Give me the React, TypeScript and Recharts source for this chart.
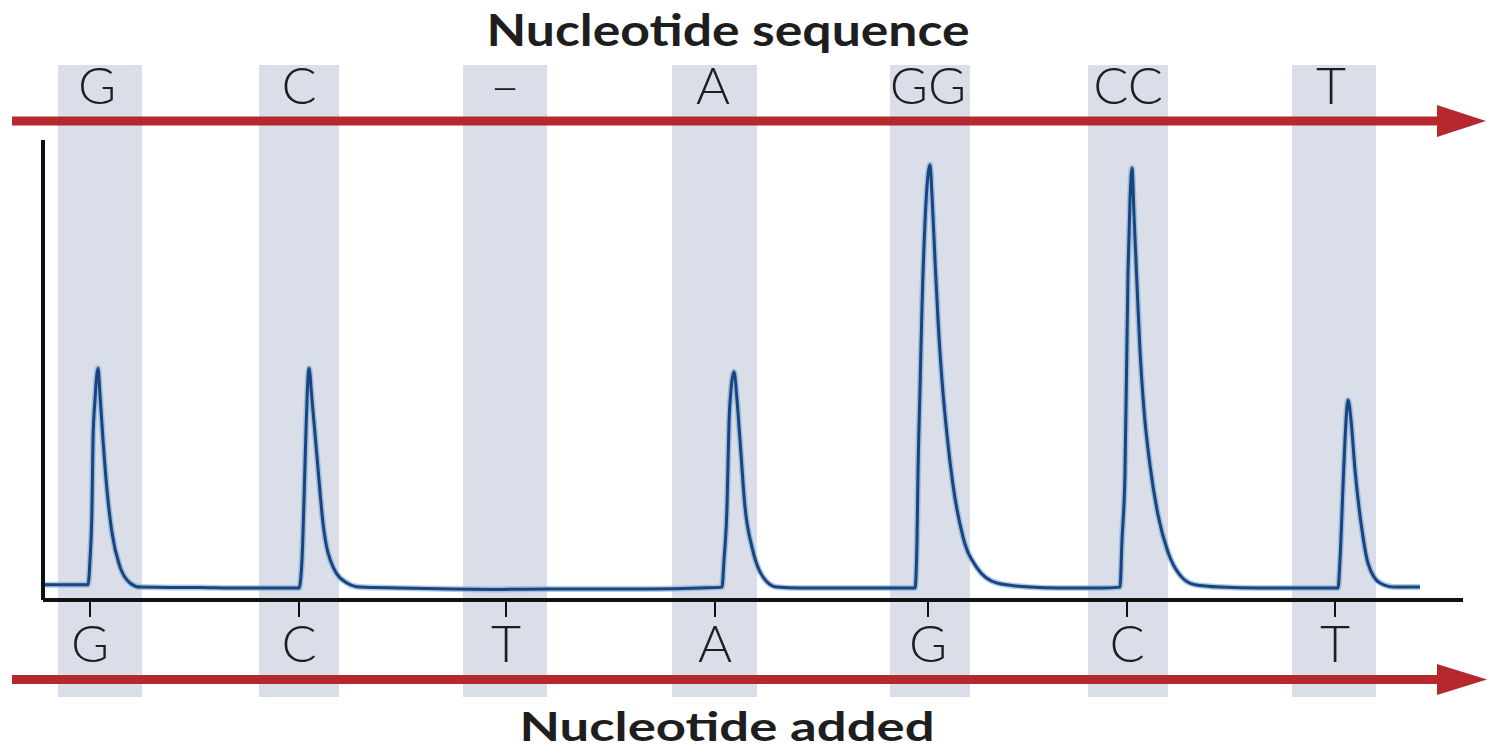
import React from 'react';
import { ComposedChart, Line, XAxis, YAxis, ReferenceArea } from 'recharts';

const W = 1487;
const H = 750;

// Pyrogram signal: time (arbitrary units) vs light signal (relative units)
const base0: [number, number][] = [[0.1, 3.3], [4.5, 3.3]];
const peakG: [number, number][] = [[4.7, 8.7], [4.9, 20.2], [5.0, 34.8], [5.2, 43.5], [5.5, 50.4], [5.7, 44.6], [6.0, 34.8], [6.4, 23.9], [6.9, 14.6], [7.7, 7.2], [8.7, 3.7], [9.7, 2.8]];
const base1: [number, number][] = [[12.7, 2.7], [15.7, 2.7], [18.7, 2.6], [21.7, 2.6], [25.6, 2.6]];
const peakC: [number, number][] = [[25.9, 8.7], [26.1, 21.7], [26.3, 37.0], [26.6, 50.4], [26.9, 43.5], [27.4, 31.1], [28.0, 16.7], [29.0, 7.2], [30.4, 3.7], [31.7, 2.8]];
const base2: [number, number][] = [[35.7, 2.6], [40.7, 2.4], [45.7, 2.3], [50.7, 2.4], [55.7, 2.4], [60.7, 2.4], [65.7, 2.6], [67.9, 2.8]];
const peakA: [number, number][] = [[68.1, 8.7], [68.4, 20.2], [68.6, 38.5], [68.8, 45.7], [69.1, 49.6], [69.4, 43.5], [69.7, 34.8], [70.2, 20.2], [70.9, 11.5], [72.0, 5.0], [73.4, 2.8]];
const base3: [number, number][] = [[75.7, 2.6], [80.7, 2.6], [85.7, 2.6], [87.2, 2.6]];
const peakGG: [number, number][] = [[87.4, 13.0], [87.5, 27.6], [87.7, 45.7], [87.9, 63.7], [88.2, 82.0], [88.5, 92.4], [88.7, 94.6], [88.9, 88.0], [89.2, 73.9], [89.5, 60.9], [89.9, 47.8], [90.4, 35.9], [91.0, 25.0], [92.0, 13.7], [93.4, 7.0], [95.4, 3.7], [98.7, 2.8]];
const base4: [number, number][] = [[101.7, 2.6], [105.7, 2.6], [107.7, 2.8]];
const peakCC: [number, number][] = [[107.9, 13.0], [108.2, 27.6], [108.5, 71.1], [108.7, 87.0], [108.9, 93.9], [109.1, 83.7], [109.4, 68.5], [109.7, 54.3], [110.1, 41.3], [110.7, 29.3], [111.5, 18.5], [112.5, 10.4], [113.7, 5.4], [115.2, 3.3], [117.7, 2.8]];
const base5: [number, number][] = [[121.7, 2.6], [125.7, 2.6], [129.5, 2.6]];
const peakT: [number, number][] = [[129.7, 8.7], [130.0, 24.6], [130.2, 34.8], [130.5, 43.5], [130.8, 39.1], [131.2, 28.3], [131.9, 15.2], [132.5, 8.0], [133.7, 3.7], [135.2, 2.8], [137.7, 2.8]];

// Dispensation windows (shaded bands)
const bandStart = [1.5, 21.6, 42.0, 62.9, 84.7, 104.5, 124.9];
const bandEnd = [9.9, 29.6, 50.4, 71.4, 92.7, 112.5, 133.3];

// Nucleotide sequence (top) and nucleotide added (bottom)
const sequenceLabels = ['G', 'C', '\u2013', 'A', 'GG', 'CC', 'T'];
const sequenceTicks = [5.4, 25.6, 46.2, 67.0, 88.5, 108.5, 128.8];
const addedLabels = ['G', 'C', 'T', 'A', 'G', 'C', 'T'];
const addedTicks = [4.7, 25.6, 46.3, 67.2, 88.5, 108.4, 129.2];

const signal = [
  ...base0, ...peakG, ...base1, ...peakC, ...base2, ...peakA,
  ...base3, ...peakGG, ...base4, ...peakCC, ...base5, ...peakT,
].map(([t, s]) => ({ t, s }));

const RED = '#b5282e';
const BAND = '#d9dee8';
const INK = '#1e1e1e';
const tickFont = { fill: INK, fontSize: 52, fontFamily: 'Lato, "Open Sans", sans-serif', fontWeight: 300 };

export default function App() {
  return (
    <div style={{ position: 'absolute', left: 0, top: 0, width: W, height: H, background: '#fff' }}>
      <ComposedChart width={W} height={H} data={signal} margin={{ top: 0, right: 24, bottom: 0, left: 0 }}>
        {bandStart.map((x1, i) => (
          <ReferenceArea
            key={i}
            x1={x1}
            x2={bandEnd[i]}
            y1={-21.1}
            y2={116.3}
            fill={BAND}
            fillOpacity={1}
            stroke="none"
            ifOverflow="visible"
          />
        ))}
        <XAxis
          xAxisId="top"
          orientation="top"
          dataKey="t"
          type="number"
          domain={[0, 142]}
          allowDataOverflow
          ticks={sequenceTicks}
          interval={0}
          tickFormatter={(_v: number, i: number) => sequenceLabels[i]}
          axisLine={false}
          tickLine={false}
          tickSize={0}
          tickMargin={36}
          height={140}
          tick={tickFont}
        />
        <XAxis
          dataKey="t"
          type="number"
          domain={[0, 142]}
          allowDataOverflow
          ticks={addedTicks}
          interval={0}
          tickFormatter={(_v: number, i: number) => addedLabels[i]}
          axisLine={{ stroke: '#111', strokeWidth: 4 }}
          tickLine={{ stroke: '#111', strokeWidth: 2 }}
          tickSize={17}
          tickMargin={8}
          height={150}
          tick={tickFont}
        />
        <YAxis
          type="number"
          domain={[0, 100]}
          width={43}
          tick={false}
          tickLine={false}
          axisLine={{ stroke: '#111', strokeWidth: 4 }}
        />
        <Line
          xAxisId="top"
          type="monotone"
          dataKey="s"
          stroke="none"
          strokeOpacity={0}
          dot={false}
          activeDot={false}
          legendType="none"
          isAnimationActive={false}
        />
        <Line
          type="monotone"
          dataKey="s"
          stroke="#7fa6d3"
          strokeOpacity={0.6}
          strokeWidth={6}
          dot={false}
          activeDot={false}
          isAnimationActive={false}
        />
        <Line
          type="monotone"
          dataKey="s"
          stroke="#17457f"
          strokeWidth={3}
          dot={false}
          activeDot={false}
          isAnimationActive={false}
        />
      </ComposedChart>
      <svg width={W} height={H} style={{ position: 'absolute', left: 0, top: 0, pointerEvents: 'none' }}>
        <line x1={12} y1={121} x2={1440} y2={121} stroke={RED} strokeWidth={9} />
        <polygon points="1437,105 1486,121 1437,137" fill={RED} />
        <line x1={12} y1={679.5} x2={1440} y2={679.5} stroke={RED} strokeWidth={9} />
        <polygon points="1437,664 1487,679.5 1437,695" fill={RED} />
        <text
          x={728}
          y={46}
          textAnchor="middle"
          fontFamily='Lato, "Open Sans", sans-serif'
          fontWeight={700}
          fontSize={43}
          fill={INK}
          textLength={483}
          lengthAdjust="spacingAndGlyphs"
        >
          Nucleotide sequence
        </text>
        <text
          x={727}
          y={741}
          textAnchor="middle"
          fontFamily='Lato, "Open Sans", sans-serif'
          fontWeight={700}
          fontSize={41}
          fill={INK}
          textLength={415}
          lengthAdjust="spacingAndGlyphs"
        >
          Nucleotide added
        </text>
      </svg>
    </div>
  );
}
